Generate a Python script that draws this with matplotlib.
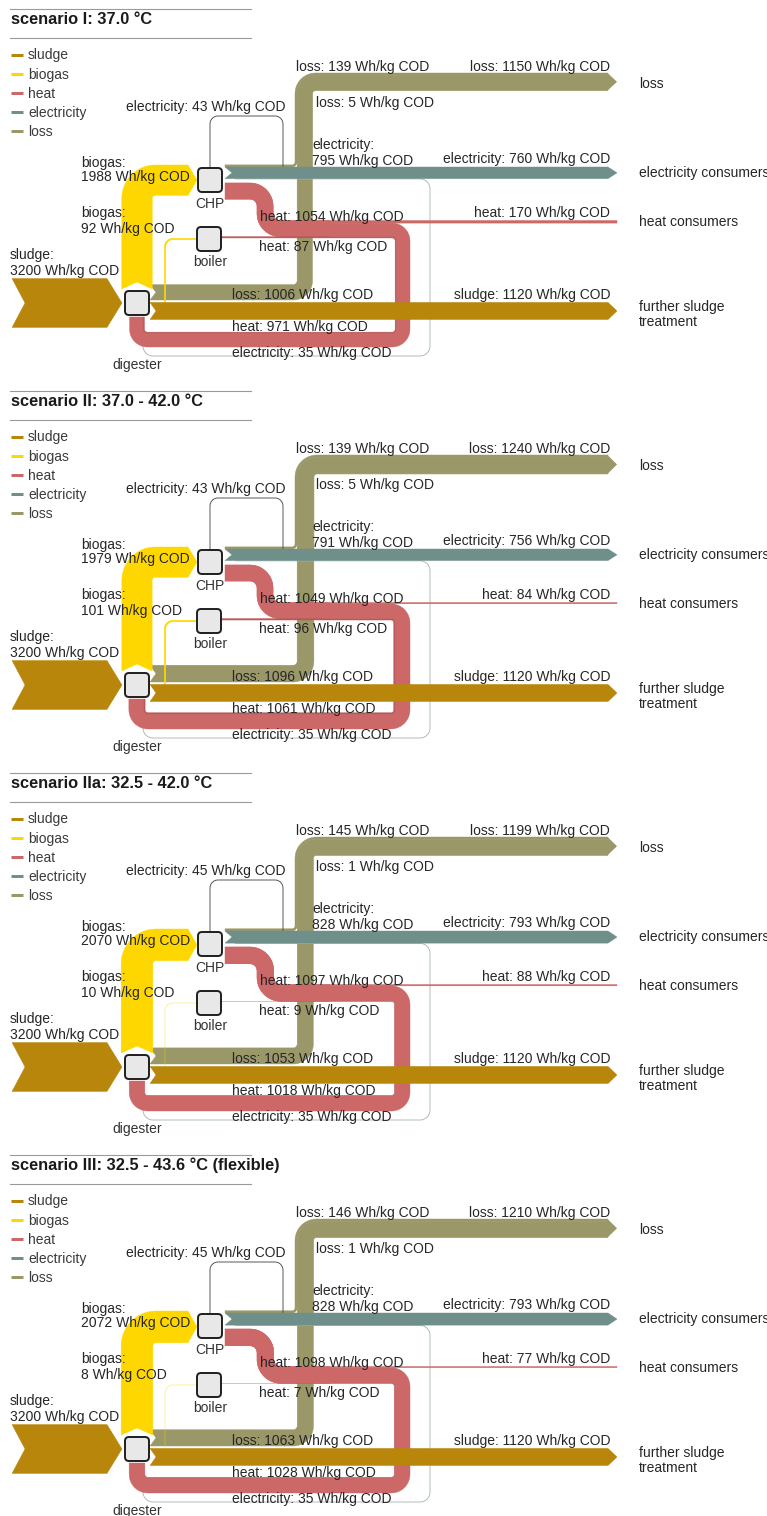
import numpy as np
import matplotlib
matplotlib.use("Agg")
import matplotlib.pyplot as plt
from matplotlib.patches import Polygon, FancyBboxPatch

plt.rcParams['font.family'] = ['Liberation Sans', 'DejaVu Sans']

# ---- data (Wh/kg COD) ----
titles = ["scenario I: 37.0 \u00b0C",
          "scenario II: 37.0 - 42.0 \u00b0C",
          "scenario IIa: 32.5 - 42.0 \u00b0C",
          "scenario III: 32.5 - 43.6 \u00b0C (flexible)"]
sludge_in = [3200, 3200, 3200, 3200]
sludge_out = [1120, 1120, 1120, 1120]
biogas_chp = [1988, 1979, 2070, 2072]
biogas_boiler = [92, 101, 10, 8]
elec_chp = [795, 791, 828, 828]
elec_own = [43, 43, 45, 45]
elec_out = [760, 756, 793, 793]
elec_dig = [35, 35, 35, 35]
heat_chp = [1054, 1049, 1097, 1098]
heat_boiler = [87, 96, 9, 7]
heat_out = [170, 84, 88, 77]
heat_dig = [971, 1061, 1018, 1028]
loss_dig = [1006, 1096, 1053, 1063]
loss_chp = [139, 139, 145, 146]
loss_boiler = [5, 5, 1, 1]
loss_out = [1150, 1240, 1199, 1210]

legend_names = ["sludge", "biogas", "heat", "electricity", "loss"]
colors = {"sludge": "#B8860B", "biogas": "#FFD700", "heat": "#CD6868",
          "electricity": "#6F8F8A", "loss": "#9A9868"}

S = 0.0153          # px per Wh/kg COD
PANEL_STEP = 382
PX = 0.72           # points per pixel at 100 dpi

fig = plt.figure(figsize=(7.67, 15.16), dpi=100)
ax = fig.add_axes([0, 0, 1, 1])
ax.set_xlim(0, 767)
ax.set_ylim(1516, 0)
ax.axis("off")


def unit(v):
    return v / np.hypot(*v)


def perp(v):
    return np.array([-v[1], v[0]])


def centerline(pts, radii, n=16):
    P = [np.array(p, float) for p in pts]
    out, tan = [P[0]], [unit(P[1] - P[0])]
    for i in range(1, len(P) - 1):
        din, dout = unit(P[i] - P[i - 1]), unit(P[i + 1] - P[i])
        r = radii[i - 1]
        c = P[i] - din * r + dout * r
        for a in np.linspace(0, np.pi / 2, n):
            out.append(c - dout * r * np.cos(a) + din * r * np.sin(a))
            tan.append(din * np.cos(a) + dout * np.sin(a))
    out.append(P[-1])
    tan.append(unit(P[-1] - P[-2]))
    return np.array(out), np.array(tan)


def offset(pts, radii, d):
    P = [np.array(p, float) for p in pts]
    dirs = [unit(P[i + 1] - P[i]) for i in range(len(P) - 1)]
    new = [P[0] + perp(dirs[0]) * d]
    nr = []
    for i in range(1, len(P) - 1):
        din, dout = dirs[i - 1], dirs[i]
        new.append(P[i] + perp(din) * d + perp(dout) * d)
        nr.append(radii[i - 1] - d * np.sign(np.cross(din, dout)))
    new.append(P[-1] + perp(dirs[-1]) * d)
    return new, nr


def band(pts, radii, w, color, notch=0, tip=0, z=2):
    p, t = centerline(pts, radii)
    if w < 1.0:
        ax.plot(p[:, 0], p[:, 1], color=color, lw=max(w, 0.7) * PX,
                alpha=0.55, solid_capstyle="butt", zorder=z)
        return
    n = np.stack([-t[:, 1], t[:, 0]], axis=1)
    left = p + n * w / 2
    right = p - n * w / 2
    poly = list(left)
    if tip:
        poly.append(p[-1] + t[-1] * tip)
    poly += list(right[::-1])
    if notch:
        poly.append(p[0] + t[0] * notch)
    ax.add_patch(Polygon(poly, closed=True, facecolor=color,
                         edgecolor=color, lw=0.3, zorder=z))


def line(pts, radii, color, lw, z=3):
    p, _ = centerline(pts, radii)
    ax.plot(p[:, 0], p[:, 1], color=color, lw=lw * PX, zorder=z,
            solid_capstyle="butt")


def label(x, y, txt, ha="left", size=10, weight="normal", color="#262626"):
    for k, row in enumerate(txt.split("\n")):
        ax.text(x, y + 4.5 + k * 15, row, ha=ha, va="baseline",
                fontsize=size, fontweight=weight, color=color, zorder=10)


def node(cx, cy):
    ax.add_patch(FancyBboxPatch((cx - 10, cy - 10), 20, 20,
                                boxstyle="round,pad=2,rounding_size=4",
                                facecolor="#E8E8E8", edgecolor="#1E1E1E",
                                lw=1.4, zorder=8))


def panel(i):
    dy = i * PANEL_STEP
    ri = 3

    # header and legend
    ax.plot([10, 251], [9 + dy, 9 + dy], color="#9A9A9A", lw=0.8)
    ax.plot([10, 251], [38 + dy, 38 + dy], color="#9A9A9A", lw=0.8)
    label(11, 19.5 + dy, titles[i], size=11.8, weight="bold", color="#1A1A1A")
    for k, name in enumerate(legend_names):
        yy = 55 + 19 * k + dy
        ax.plot([11, 23], [yy, yy], color=colors[name], lw=3 * PX,
                solid_capstyle="butt")
        label(28, yy, name, color="#3A3A3A")

    # loss: digester, CHP and boiler into one output band
    w_ld, w_lc, w_lb = loss_dig[i] * S, loss_chp[i] * S, loss_boiler[i] * S
    W = w_ld + w_lc + w_lb
    top, xl0 = 73 + dy, 295
    xc, yc = xl0 + w_lc + w_ld / 2, top + w_lc + w_ld / 2
    yl = 300 + dy - w_ld / 2
    band([(150, yl), (xc, yl), (xc, yc), (608, yc)],
         [4 + w_ld / 2, ri + w_lb + w_ld / 2], w_ld, colors["loss"], notch=6)
    x1, y1t = xl0 + w_lc / 2, top + w_lc / 2
    y1 = 167 + dy - w_lc / 2
    band([(225, y1), (x1, y1), (x1, y1t), (608, y1t)],
         [ri + w_lc / 2, ri + w_lb + w_ld + w_lc / 2], w_lc, colors["loss"])
    x5, y5 = xl0 + w_lc + w_ld + w_lb / 2, top + w_lc + w_ld + w_lb / 2
    band([(x5, 179 + dy), (x5, y5), (608, y5)], [ri + w_lb / 2], w_lb,
         colors["loss"])
    ax.add_patch(Polygon([(607.5, top), (617, top + W / 2), (607.5, top + W)],
                         facecolor=colors["loss"], edgecolor="none", zorder=2))

    # biogas
    wb = biogas_chp[i] * S
    yb = 165 + dy + wb / 2
    band([(137, 289 + dy), (137, yb), (188, yb)], [ri + wb / 2], wb,
         colors["biogas"], notch=7, tip=9, z=3)
    band([(152, 305 + dy), (165, 305 + dy), (165, 239 + dy), (197, 239 + dy)],
         [4, 8], biogas_boiler[i] * S, colors["biogas"], z=3)

    # heat: CHP loop back to digester, branch to consumers, boiler join
    rs = 7
    w_out = heat_out[i] * S
    w_main = (heat_chp[i] - heat_out[i]) * S
    w_bo = heat_boiler[i] * S
    ys = 183 + dy + w_out + w_main / 2
    xv = 257 + w_main / 2
    yh = 220.5 + dy + w_out + w_main / 2
    xr = 410 - w_main / 2
    ybt = 347 + dy - w_main / 2
    xlft = 137 - w_bo / 2
    main_pts = [(225, ys), (xv, ys), (xv, yh), (xr, yh), (xr, ybt),
                (xlft, ybt), (xlft, 317 + dy)]
    r_loop = ri + w_bo + w_main / 2
    main_r = [rs + w_main / 2, rs + w_out + w_main / 2, r_loop, r_loop, r_loop]
    band(main_pts, main_r, w_main, colors["heat"], z=4)
    s_pts = [(225, ys), (xv, ys), (xv, yh), (330, yh)]
    p_tr, r_tr = offset(s_pts, main_r[:2], -w_out / 2)
    band(p_tr, r_tr, w_main + w_out, colors["heat"], notch=5, z=4)
    p170, r170 = offset(s_pts[:3] + [(617, yh)], main_r[:2],
                        -(w_main + w_out) / 2)
    band(p170, r170, w_out, colors["heat"], z=4)
    p87, r87 = offset([(222, yh), (xr, yh), (xr, ybt), (xlft, ybt),
                       (xlft, 317 + dy)], main_r[2:], (w_main + w_bo) / 2)
    band(p87, r87, w_bo, "#B85858", z=4)

    # sludge
    band([(12, 303 + dy), (107, 303 + dy)], [], sludge_in[i] * S,
         colors["sludge"], notch=13, tip=15, z=5)
    wso = sludge_out[i] * S
    band([(150, 302.4 + dy + wso / 2), (608, 302.4 + dy + wso / 2)], [], wso,
         colors["sludge"], notch=6, tip=9, z=5)

    # electricity
    we = elec_out[i] * S
    band([(225, 167 + dy + we / 2), (608, 167 + dy + we / 2)], [], we,
         colors["electricity"], notch=7, tip=9, z=6)
    wd = elec_dig[i] * S
    ye = 167 + dy + we + wd / 2
    line([(235, ye), (430, ye), (430, 356 + dy), (143, 356 + dy),
          (143, 318 + dy)], [10, 10, 10], "#A9B8B5", max(wd, 0.9), z=3)
    line([(210, 168 + dy), (210, 116 + dy), (283, 116 + dy), (283, 167 + dy)],
         [8, 8], "#4A4A4A", max(elec_own[i] * S, 0.9), z=3)

    # nodes
    node(210, 180 + dy)
    node(209, 239 + dy)
    node(137, 303 + dy)
    label(210, 203 + dy, "CHP", ha="center", color="#333333")
    label(210, 262 + dy, "boiler", ha="center", color="#333333")
    label(137, 364 + dy, "digester", ha="center", color="#333333")

    # flow labels
    unit_txt = " Wh/kg COD"
    label(296, 66 + dy, f"loss: {loss_chp[i]}{unit_txt}")
    label(610, 66 + dy, f"loss: {loss_out[i]}{unit_txt}", ha="right")
    label(316, 103 + dy, f"loss: {loss_boiler[i]}{unit_txt}")
    label(285, 107 + dy, f"electricity: {elec_own[i]}{unit_txt}", ha="right")
    label(312, 145 + dy, f"electricity:\n{elec_chp[i]}{unit_txt}")
    label(610, 159 + dy, f"electricity: {elec_out[i]}{unit_txt}", ha="right")
    label(81, 162 + dy, f"biogas:\n{biogas_chp[i]}{unit_txt}")
    label(81, 213 + dy, f"biogas:\n{biogas_boiler[i]}{unit_txt}")
    label(10, 255 + dy, f"sludge:\n{sludge_in[i]}{unit_txt}")
    label(260, 217 + dy, f"heat: {heat_chp[i]}{unit_txt}")
    label(610, 213 + dy, f"heat: {heat_out[i]}{unit_txt}", ha="right")
    label(259, 246 + dy, f"heat: {heat_boiler[i]}{unit_txt}")
    label(232, 294 + dy, f"loss: {loss_dig[i]}{unit_txt}")
    label(610, 295 + dy, f"sludge: {sludge_out[i]}{unit_txt}", ha="right")
    label(232, 327 + dy, f"heat: {heat_dig[i]}{unit_txt}")
    label(232, 352 + dy, f"electricity: {elec_dig[i]}{unit_txt}")

    # sinks
    label(639, 83 + dy, "loss")
    label(639, 173 + dy, "electricity consumers")
    label(639, 222 + dy, "heat consumers")
    label(639, 306 + dy, "further sludge\ntreatment")


for i in range(len(titles)):
    panel(i)

fig.savefig("out.png", dpi=100)
